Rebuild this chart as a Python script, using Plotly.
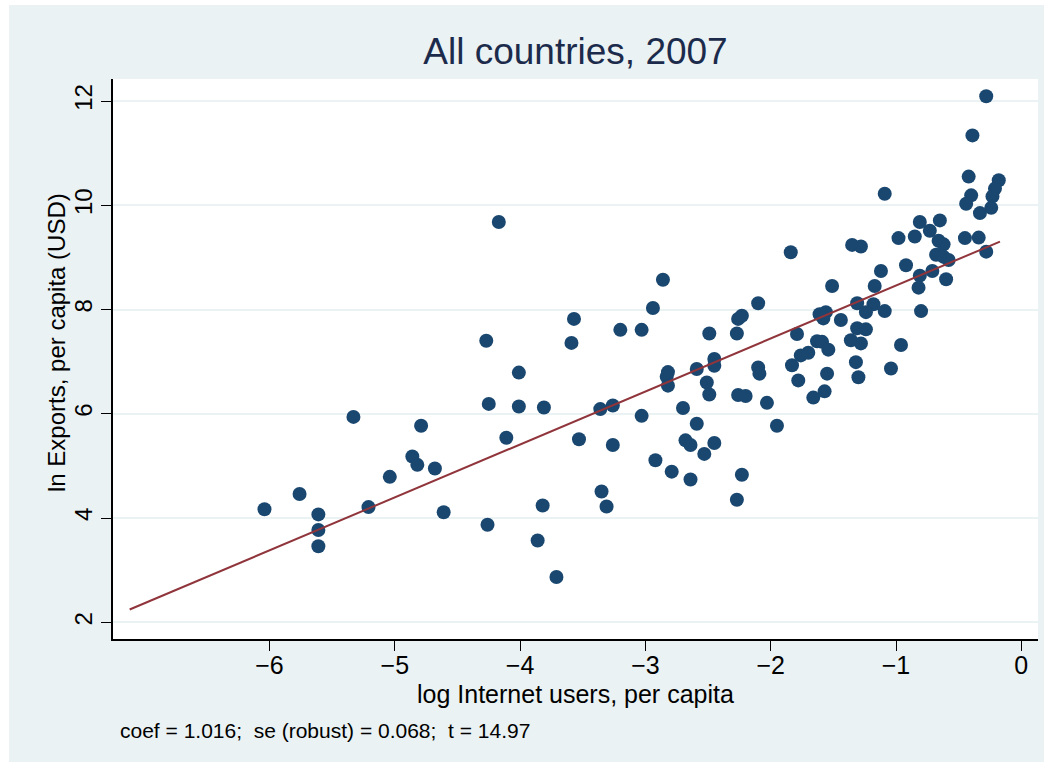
import plotly.graph_objects as go

# log Internet users per capita (x) and ln exports per capita (y)
internet = [
    -4.27, -4.01, -4.25, -4.01, -3.81, -5.33, -4.79, -4.11, -4.86, -4.82,
    -4.68, -5.04, -5.76, -6.04, -5.21, -5.61, -5.61, -5.61, -4.61, -3.82,
    -4.26, -3.86, -3.71, -4.17, -1.84, -2.86, -1.51, -2.94, -2.10, -3.57,
    -2.26, -2.23, -3.20, -3.03, -3.59, -2.49, -2.27, -1.61, -1.56, -1.58,
    -1.44, -1.79, -1.63, -1.59, -1.54, -1.76, -1.70, -2.45, -2.45, -2.59,
    -2.82, -2.83, -2.82, -2.10, -2.09, -1.83, -1.55, -2.51, -2.49, -1.78,
    -2.26, -2.20, -1.57, -1.66, -2.03, -3.36, -3.26, -2.70, -3.03, -2.59,
    -1.95, -3.53, -3.26, -2.68, -2.64, -2.45, -2.53, -2.92, -2.79, -2.64,
    -2.23, -3.35, -3.31, -2.27, -0.28, -0.39, -0.42, -0.40, -0.44, -0.18,
    -0.21, -0.23, -0.24, -0.33, -1.09, -0.81, -0.65, -0.73, -0.66, -0.62,
    -0.98, -0.85, -0.45, -0.34, -0.28, -0.68, -0.62, -0.58, -1.35, -1.28,
    -0.92, -0.81, -0.71, -0.60, -1.12, -1.17, -0.82, -1.31, -1.18, -1.24,
    -1.09, -0.80, -1.31, -1.24, -1.36, -1.28, -0.96, -1.32, -1.04, -1.30,
]
exports = [
    7.40, 6.79, 6.19, 6.14, 6.12, 5.94, 5.77, 5.54, 5.18, 5.02,
    4.95, 4.79, 4.46, 4.17, 4.21, 4.07, 3.77, 3.46, 4.11, 4.24,
    3.87, 3.57, 2.87, 9.68, 9.10, 8.57, 8.45, 8.03, 8.12, 7.82,
    7.82, 7.88, 7.61, 7.61, 7.36, 7.54, 7.54, 7.91, 7.95, 7.83,
    7.80, 7.53, 7.39, 7.38, 7.23, 7.12, 7.17, 7.05, 6.92, 6.86,
    6.80, 6.71, 6.54, 6.89, 6.77, 6.93, 6.77, 6.60, 6.37, 6.64,
    6.36, 6.34, 6.43, 6.31, 6.21, 6.09, 6.16, 6.11, 5.96, 5.81,
    5.77, 5.51, 5.40, 5.49, 5.40, 5.44, 5.23, 5.11, 4.89, 4.74,
    4.83, 4.51, 4.22, 4.35, 12.09, 11.34, 10.55, 10.19, 10.03, 10.48,
    10.32, 10.17, 9.95, 9.85, 10.22, 9.68, 9.71, 9.51, 9.32, 9.25,
    9.37, 9.40, 9.37, 9.38, 9.11, 9.05, 9.01, 8.95, 9.24, 9.21,
    8.85, 8.65, 8.74, 8.58, 8.74, 8.45, 8.42, 8.12, 8.10, 7.95,
    7.97, 7.97, 7.64, 7.62, 7.41, 7.35, 7.32, 6.99, 6.87, 6.70,
]

# fitted line (OLS): intercept, slope, and x range of the fit
fit_intercept = 9.476
fit_slope = 1.016
fit_x = [-7.116, -0.17]
fit_y = [fit_intercept + fit_slope * v for v in fit_x]

x_ticks = [-6, -5, -4, -3, -2, -1, 0]
y_ticks = [2, 4, 6, 8, 10, 12]

title_text = "All countries, 2007"
x_title = "log Internet users, per capita"
y_title = "ln Exports, per capita (USD)"
note_text = "coef = 1.016;\u00a0 se (robust) = 0.068;\u00a0 t = 14.97"

BG = "#eaf2f3"
NAVY = "#1a476f"
MAROON = "#90353b"
FONT = "Liberation Sans, Arial, Helvetica, sans-serif"

fig = go.Figure()
fig.add_trace(go.Scatter(
    x=internet, y=exports, mode="markers",
    marker=dict(size=14, color=NAVY, line=dict(width=0)),
    showlegend=False, hoverinfo="x+y",
))
fig.add_trace(go.Scatter(
    x=fit_x, y=fit_y, mode="lines",
    line=dict(color=MAROON, width=2),
    showlegend=False, hoverinfo="skip",
))

# plot area: x 113..1038, y 79..639 (pixels)
L, R, T, B = 113, 1038, 79, 639
W, H = 1052, 767
pw, ph = R - L, B - T

def px_x(p):
    return (p - L) / pw

def px_y(p):
    return (B - p) / ph

# white plot region
fig.add_shape(
    type="rect", xref="x domain", yref="y domain",
    x0=0, x1=1, y0=0, y1=1,
    fillcolor="#ffffff", line=dict(width=0), layer="below",
)

# thin white frame around the bluish graph region
for x0, x1, y0, y1 in [(0, 9, 0, H), (1044, W, 0, H), (0, W, 0, 5), (0, W, 762, H)]:
    fig.add_shape(
        type="rect", xref="paper", yref="paper",
        x0=px_x(x0), x1=px_x(x1), y0=px_y(y1), y1=px_y(y0),
        fillcolor="white", line=dict(width=0), layer="above",
    )

fig.add_annotation(
    text=note_text, xref="paper", yref="paper",
    x=px_x(118), y=px_y(730), xanchor="left", yanchor="middle",
    showarrow=False, font=dict(family=FONT, size=21, color="black"),
)
fig.add_annotation(
    text=x_title, xref="paper", yref="paper",
    x=px_x(575.5), y=px_y(694), xanchor="center", yanchor="middle",
    showarrow=False, font=dict(family=FONT, size=25, color="black"),
)
fig.add_annotation(
    text=y_title, xref="paper", yref="paper", textangle=-90,
    x=px_x(56), y=px_y(343), xanchor="center", yanchor="middle",
    showarrow=False, font=dict(family=FONT, size=24, color="black"),
)

fig.update_layout(
    template="none",
    width=W, height=H,
    margin=dict(l=L, r=W - R, t=T, b=H - B, pad=0),
    paper_bgcolor=BG,
    plot_bgcolor="#ffffff",
    font=dict(family=FONT, color="black"),
    title=dict(
        text=title_text, x=px_x(575.5), xref="paper", xanchor="center",
        y=1 - 51 / H, yref="container", yanchor="middle",
        font=dict(family=FONT, size=37, color="#1c2b4b"),
    ),
    xaxis=dict(
        range=[(L - 1021.3) / 125.3, (R - 1021.3) / 125.3],
        tickmode="array", tickvals=x_ticks,
        ticks="outside", ticklen=10, tickwidth=1.2, tickcolor="black",
        ticklabelstandoff=-7,
        showline=True, linecolor="black", linewidth=1.5,
        showgrid=False, zeroline=False, automargin=False,
        tickfont=dict(family=FONT, size=25, color="black"),
    ),
    yaxis=dict(
        range=[2 - (B - 622.3) / 52.13, 2 + (622.3 - T) / 52.13],
        tickmode="array", tickvals=y_ticks,
        tickangle=-90,
        ticks="outside", ticklen=10, tickwidth=1.2, tickcolor="black",
        showline=True, linecolor="black", linewidth=1.5,
        showgrid=True, gridcolor=BG, gridwidth=2,
        zeroline=False, automargin=False,
        tickfont=dict(family=FONT, size=24, color="black"),
    ),
)

fig.write_html(
    "out.html",
    config={"displayModeBar": False},
    post_script="document.body.style.margin='0';document.body.style.padding='0';",
)
